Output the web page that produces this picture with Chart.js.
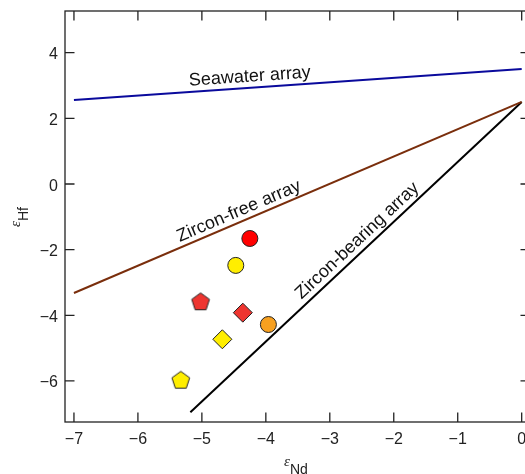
<!DOCTYPE html>
<html>
<head>
<meta charset="utf-8">
<script src="https://cdn.jsdelivr.net/npm/chart.js@4.4.1/dist/chart.umd.min.js"></script>
<style>
  html, body { margin: 0; padding: 0; background: #fff; overflow: hidden; }
  #wrap { width: 535px; height: 474px; }
</style>
</head>
<body>
<div id="wrap"><canvas id="chartCanvas" width="535" height="474"></canvas></div>
<script>
// tick values
var xTicks = [-7, -6, -5, -4, -3, -2, -1, 0];
var yTicks = [-6, -4, -2, 0, 2, 4];

// array lines (eNd, eHf end points)
var seawaterX = [-7, 0];
var seawaterY = [2.56, 3.5];
var zirconFreeX = [-7, 0];
var zirconFreeY = [-3.32, 2.5];
var zirconBearingX = [-5.18, 0];
var zirconBearingY = [-6.95, 2.5];

// samples
var sampleNd = [-4.25, -4.47, -5.02, -4.36, -3.96, -4.68, -5.33];
var sampleHf = [-1.66, -2.48, -3.57, -3.92, -4.28, -4.73, -5.96];
var sampleShape = ['circle', 'circle', 'pentagon', 'diamond', 'circle', 'diamond', 'pentagon'];
var sampleColor = ['#ff0000', '#ffee00', '#ee3530', '#ee3530', '#f7a020', '#ffee00', '#ffee00'];

// line labels
var lineLabels = ['Seawater array', 'Zircon-free array', 'Zircon-bearing array'];
var labelX = [-4.25, -4.42, -2.57];
var labelY = [3.27, -0.83, -1.73];

var FONT = '"Liberation Sans", Arial, Helvetica, sans-serif';
var INK = '#222';

function pts(xs, ys) {
	return xs.map(function(x, i) { return {x: x, y: ys[i]}; });
}
function minus(v) {
	return String(v).replace('-', '\u2212');
}

// chart.js has no pentagon, so draw one on a small canvas
function pentagon(fill) {
	var c = document.createElement('canvas');
	c.width = 22; c.height = 22;
	var g = c.getContext('2d');
	g.beginPath();
	for (var k = 0; k < 5; k++) {
		var a = -Math.PI / 2 + k * 2 * Math.PI / 5;
		var px = 11 + 9.3 * Math.cos(a), py = 12 + 9.3 * Math.sin(a);
		if (k == 0) g.moveTo(px, py); else g.lineTo(px, py);
	}
	g.closePath();
	g.fillStyle = fill;
	g.fill();
	g.strokeStyle = '#222';
	g.lineWidth = 1;
	g.stroke();
	return c;
}

var lineSets = [[seawaterX, seawaterY], [zirconFreeX, zirconFreeY], [zirconBearingX, zirconBearingY]];
var lineColors = ['#0a0a9c', '#7a2e0c', '#000'];

var datasets = lineSets.map(function(l, i) {
	return {data: pts(l[0], l[1]), showLine: true, borderColor: lineColors[i], borderWidth: 2, pointRadius: 0};
});
sampleNd.forEach(function(x, i) {
	var shape = sampleShape[i];
	datasets.push({
		data: [{x: x, y: sampleHf[i]}],
		pointStyle: shape == 'pentagon' ? pentagon(sampleColor[i]) : (shape == 'diamond' ? 'rectRot' : 'circle'),
		pointRadius: shape == 'circle' ? 8 : 9.5,
		pointBackgroundColor: sampleColor[i],
		pointBorderColor: '#222',
		pointBorderWidth: 1
	});
});

var decor = {
	id: 'decor',
	afterDraw: function(chart) {
		var ctx = chart.ctx, a = chart.chartArea;
		var xs = chart.scales.x, ys = chart.scales.y;
		ctx.save();
		// frame
		ctx.strokeStyle = INK;
		ctx.lineWidth = 1.3;
		ctx.strokeRect(a.left, a.top, a.right - a.left, a.bottom - a.top);
		// inward ticks
		var L = 9.5;
		ctx.beginPath();
		xTicks.forEach(function(v) {
			var p = xs.getPixelForValue(v);
			ctx.moveTo(p, a.bottom); ctx.lineTo(p, a.bottom - L);
			ctx.moveTo(p, a.top); ctx.lineTo(p, a.top + L);
		});
		yTicks.forEach(function(v) {
			var p = ys.getPixelForValue(v);
			ctx.moveTo(a.left, p); ctx.lineTo(a.left + L, p);
			ctx.moveTo(a.right, p); ctx.lineTo(a.right - L, p);
		});
		ctx.stroke();

		// tick labels
		ctx.fillStyle = INK;
		ctx.font = '16px ' + FONT;
		ctx.textBaseline = 'alphabetic';
		ctx.textAlign = 'center';
		xTicks.forEach(function(v) {
			ctx.fillText(minus(v), xs.getPixelForValue(v), a.bottom + 21.5);
		});
		ctx.textAlign = 'right';
		yTicks.forEach(function(v) {
			ctx.fillText(minus(v), a.left - 7, ys.getPixelForValue(v) + 6.5);
		});

		// line labels
		ctx.fillStyle = '#111';
		ctx.font = '18px ' + FONT;
		ctx.textAlign = 'center';
		ctx.textBaseline = 'middle';
		lineLabels.forEach(function(t, i) {
			var ln = lineSets[i];
			var dx = xs.getPixelForValue(ln[0][1]) - xs.getPixelForValue(ln[0][0]);
			var dy = ys.getPixelForValue(ln[1][1]) - ys.getPixelForValue(ln[1][0]);
			ctx.save();
			ctx.translate(xs.getPixelForValue(labelX[i]), ys.getPixelForValue(labelY[i]));
			ctx.rotate(Math.atan2(dy, dx));
			ctx.fillText(t, 0, 0);
			ctx.restore();
		});

		// axis titles: epsilon with subscript
		function epsTitle(sub, x, y, rot) {
			ctx.save();
			ctx.translate(x, y);
			ctx.rotate(rot);
			ctx.textAlign = 'left';
			ctx.textBaseline = 'alphabetic';
			ctx.fillStyle = INK;
			ctx.font = 'italic 15px "Liberation Serif", serif';
			var w1 = ctx.measureText('\u03b5').width;
			ctx.fillText('\u03b5', 0, 0);
			ctx.font = '14px ' + FONT;
			ctx.fillText(sub, w1, 8);
			ctx.restore();
		}
		epsTitle('Nd', 284, 466, 0);
		epsTitle('Hf', 20, 227, -Math.PI / 2);
		ctx.restore();
	}
};

var ctx = document.getElementById('chartCanvas').getContext('2d');
var myChart = new Chart(ctx, {
	type: 'scatter',
	data: {datasets: datasets},
	options: {
		responsive: false,
		animation: false,
		layout: {autoPadding: false, padding: {top: 11, right: 5, left: 0, bottom: 0}},
		plugins: {legend: {display: false}, tooltip: {enabled: false}},
		scales: {
			x: {
				min: -7.14, max: 0.13,
				afterBuildTicks: function(s) { s.ticks = xTicks.map(function(v) { return {value: v}; }); },
				afterFit: function(s) { s.height = 52; },
				grid: {display: false},
				border: {display: false},
				ticks: {display: false}
			},
			y: {
				min: -7.25, max: 5.27,
				afterBuildTicks: function(s) { s.ticks = yTicks.map(function(v) { return {value: v}; }); },
				afterFit: function(s) { s.width = 65; },
				grid: {display: false},
				border: {display: false},
				ticks: {display: false}
			}
		}
	},
	plugins: [decor]
});
</script>
</body>
</html>
